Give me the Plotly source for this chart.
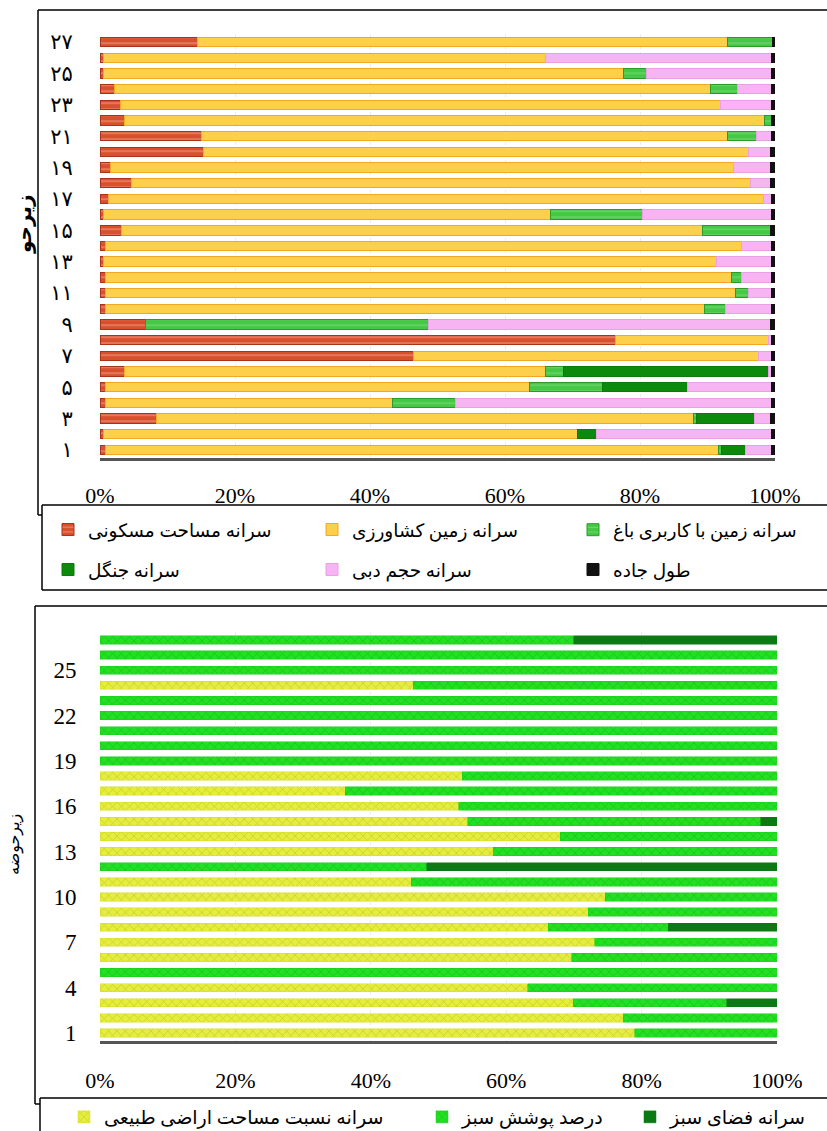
import plotly.graph_objects as go

W, H = 827, 1131

# ---------------- data: top chart (sub-basins 1..27) ----------------
subbasins = list(range(1, 28))
residential = [0.8, 0.5, 8.4, 0.8, 0.8, 3.7, 46.4, 76.3, 6.7, 0.8, 0.8, 0.8, 0.5, 0.8,
               3.2, 0.5, 1.2, 4.7, 1.5, 15.3, 15.1, 3.7, 3.0, 2.2, 0.5, 0.5, 14.4]
agricultural = [90.8, 70.2, 79.5, 42.5, 62.9, 62.3, 51.1, 22.7, 0.0, 88.8, 93.3, 92.8, 90.9, 94.3,
                86.0, 66.2, 97.1, 91.6, 92.3, 80.7, 77.8, 94.8, 88.9, 88.2, 77.0, 65.5, 78.5]
orchard = [0.5, 0.0, 0.5, 9.3, 10.7, 2.6, 0.0, 0.0, 41.9, 3.0, 1.9, 1.5, 0.0, 0.0,
           10.1, 13.7, 0.0, 0.0, 0.0, 0.0, 4.4, 1.0, 0.0, 4.1, 3.5, 0.0, 6.8]
forest = [3.5, 2.9, 8.6, 0.0, 12.6, 30.4, 0.0, 0.0, 0.0, 0.0, 0.0, 0.0, 0.0, 0.0,
          0.0, 0.0, 0.0, 0.0, 0.0, 0.0, 0.0, 0.0, 0.0, 0.0, 0.0, 0.0, 0.0]
pasture = [3.9, 25.9, 2.3, 46.9, 12.5, 0.5, 2.0, 0.5, 50.7, 6.9, 3.5, 4.4, 8.1, 4.4,
           0.0, 19.1, 1.2, 3.0, 5.5, 3.3, 2.2, 0.0, 7.6, 5.0, 18.5, 33.5, 0.0]
road = [0.5, 0.5, 0.7, 0.5, 0.5, 0.5, 0.5, 0.5, 0.7, 0.5, 0.5, 0.5, 0.5, 0.5,
        0.7, 0.5, 0.5, 0.7, 0.7, 0.7, 0.5, 0.5, 0.5, 0.5, 0.5, 0.5, 0.3]

top_names = ["سرانه مساحت مسکونی", "سرانه زمین کشاورزی", "سرانه زمین با کاربری باغ",
             "سرانه جنگل", "سرانه حجم دبی", "طول جاده"]
top_ticks = list(range(1, 28, 2))

# ---------------- data: bottom chart ----------------
natural_land = [79.0, 77.3, 69.9, 63.2, 0.0, 69.7, 73.1, 66.2, 72.1, 74.6, 46.0, 0.0, 58.1, 68.0,
                54.3, 53.0, 36.2, 53.5, 0.0, 0.0, 0.0, 0.0, 0.0, 46.3, 0.0, 0.0, 0.0]
green_cover = [21.0, 22.7, 22.7, 36.8, 100.0, 30.3, 26.9, 17.7, 27.9, 25.4, 54.0, 48.3, 41.9, 32.0,
               43.3, 47.0, 63.8, 46.5, 100.0, 100.0, 100.0, 100.0, 100.0, 53.7, 100.0, 100.0, 70.0]
green_space = [0.0, 0.0, 7.4, 0.0, 0.0, 0.0, 0.0, 16.1, 0.0, 0.0, 0.0, 51.7, 0.0, 0.0,
               2.4, 0.0, 0.0, 0.0, 0.0, 0.0, 0.0, 0.0, 0.0, 0.0, 0.0, 0.0, 30.0]
bottom_names = ["سرانه نسبت مساحت اراضی طبیعی", "درصد پوشش سبز", "سرانه فضای سبز"]
bottom_ticks = list(range(1, 28, 3))

x_ticks = [0, 20, 40, 60, 80, 100]
x_labels = [f"{v}%" for v in x_ticks]

persian = str.maketrans("0123456789", "۰۱۲۳۴۵۶۷۸۹")

SERIF = "Liberation Serif, Times New Roman, DejaVu Serif, DejaVu Sans"
FA = "Liberation Serif, DejaVu Sans"

def px(x):
    return x / W

def py(y):
    return 1 - y / H

fig = go.Figure()

top_styles = [
    dict(color="#d9512c", line=dict(color="#a8321a", width=1), pattern=dict(shape="-", fgcolor="#ffffff", size=6, solidity=0.15)),
    dict(color="#fcd04a", line=dict(color="#f5a623", width=1)),
    dict(color="#45c845", line=dict(color="#2a9a2a", width=1), pattern=dict(shape="-", fgcolor="#ffffff", size=6, solidity=0.1)),
    dict(color="#0b8a0b", line=dict(color="#0b7a0b", width=1)),
    dict(color="#f6b4f2", line=dict(color="#eaa0e6", width=1)),
    dict(color="#111111", line=dict(color="#111111", width=1)),
]
top_series = [residential, agricultural, orchard, forest, pasture, road]
top_legends = ["legend", "legend2", "legend3", "legend4", "legend5", "legend6"]

for name, vals, st, lg in zip(top_names, top_series, top_styles, top_legends):
    fig.add_trace(go.Bar(
        x=vals, y=subbasins, orientation="h", name=name, marker=st,
        width=0.6, xaxis="x", yaxis="y", legend=lg, hoverinfo="x+y+name"))

bottom_styles = [
    dict(color="#e6ee3c", line=dict(color="#d6dc30", width=0.5), pattern=dict(shape="x", fgcolor="#a9b02a", size=6, solidity=0.25)),
    dict(color="#22e022", line=dict(color="#1ccc1c", width=0.5), pattern=dict(shape="x", fgcolor="#14a814", size=6, solidity=0.25)),
    dict(color="#0b7a15", line=dict(color="#0b7a15", width=0.5)),
]
bottom_series = [natural_land, green_cover, green_space]
bottom_legends = ["legend7", "legend8", "legend9"]
for name, vals, st, lg in zip(bottom_names, bottom_series, bottom_styles, bottom_legends):
    fig.add_trace(go.Bar(
        x=vals, y=subbasins, orientation="h", name=name, marker=st,
        width=0.55, xaxis="x2", yaxis="y2", legend=lg, hoverinfo="x+y+name"))

grid = dict(showgrid=True, gridcolor="#ececec", griddash="dot", gridwidth=1)

def hleg(x, y, size=19):
    return dict(orientation="h", x=px(x), xanchor="left", y=py(y), yanchor="middle",
                traceorder="normal", bgcolor="rgba(0,0,0,0)", borderwidth=0,
                font=dict(family=FA, size=size, color="black"))

def hline(x0, x1, y):
    return dict(type="line", xref="paper", yref="paper", x0=px(x0), x1=px(x1), y0=py(y), y1=py(y),
                line=dict(color="black", width=1.5))

def vline(x, y0, y1):
    return dict(type="line", xref="paper", yref="paper", x0=px(x), x1=px(x), y0=py(y0), y1=py(y1),
                line=dict(color="black", width=1.5))

fig.update_layout(
    width=W, height=H, autosize=False,
    margin=dict(l=0, r=0, t=0, b=0, autoexpand=False),
    paper_bgcolor="white", plot_bgcolor="white",
    barmode="stack", barnorm="percent",
    showlegend=True,
    xaxis=dict(domain=[px(100), px(775)], anchor="y", range=[0, 100], automargin=False,
               tickvals=x_ticks, ticktext=x_labels, ticks="outside", ticklen=16,
               tickcolor="rgba(0,0,0,0)", tickfont=dict(family=SERIF, size=22, color="black"),
               showline=True, linecolor="#555555", linewidth=3, zeroline=False, **grid),
    yaxis=dict(domain=[py(457.8), py(34.2)], anchor="x", range=[0.5, 27.5], automargin=False,
               tickvals=top_ticks, ticktext=[str(t).translate(persian) for t in top_ticks],
               ticks="outside", ticklen=22, tickcolor="rgba(0,0,0,0)",
               tickfont=dict(family=FA, size=21, color="black"),
               showgrid=False, zeroline=False, showline=False),
    xaxis2=dict(domain=[px(100), px(777)], anchor="y2", range=[0, 100], automargin=False,
                tickvals=x_ticks, ticktext=x_labels, ticks="outside", ticklen=18,
                tickcolor="rgba(0,0,0,0)", tickfont=dict(family=SERIF, size=22, color="black"),
                showline=True, linecolor="#555555", linewidth=3, zeroline=False, **grid),
    yaxis2=dict(domain=[py(1040.6), py(632.4)], anchor="x2", range=[0.5, 27.5], automargin=False,
                tickvals=bottom_ticks, ticks="outside", ticklen=18, tickcolor="rgba(0,0,0,0)",
                tickfont=dict(family=SERIF, size=23, color="black"),
                showgrid=False, zeroline=False, showline=False),
    legend=hleg(48, 530, 18.5),
    legend2=hleg(312, 530, 18.5),
    legend3=hleg(573, 530, 18),
    legend4=hleg(48, 570, 18.5),
    legend5=hleg(312, 570, 18.5),
    legend6=hleg(573, 570, 18.5),
    legend7=hleg(64, 1117),
    legend8=hleg(422, 1117),
    legend9=hleg(630, 1117),
    shapes=[
        # top chart frame
        hline(38, W, 10), vline(38, 10, 515), hline(38, 42, 515),
        # top legend box
        hline(42, W, 505), vline(42, 505, 590), hline(42, W, 590),
        # bottom chart frame
        hline(35, W, 606), vline(35, 606, 1104), hline(35, 40, 1104),
        # bottom legend box
        hline(40, W, 1098), vline(40, 1098, H),
    ],
    annotations=[
        dict(text="<b>زیرحو</b>", xref="paper", yref="paper", x=px(25), y=py(225),
             xanchor="center", yanchor="middle",
             textangle=-90, showarrow=False, font=dict(family=FA, size=20, color="black")),
        dict(text="زیرحوضه", xref="paper", yref="paper", x=px(14), y=py(845),
             xanchor="center", yanchor="middle",
             textangle=-90, showarrow=False, font=dict(family=FA, size=16, color="black")),
    ],
)

fig.write_html("out.html",
               config={"responsive": False, "displayModeBar": False, "staticPlot": True},
               post_script="document.body.style.margin='0';document.body.style.overflow='hidden';")
